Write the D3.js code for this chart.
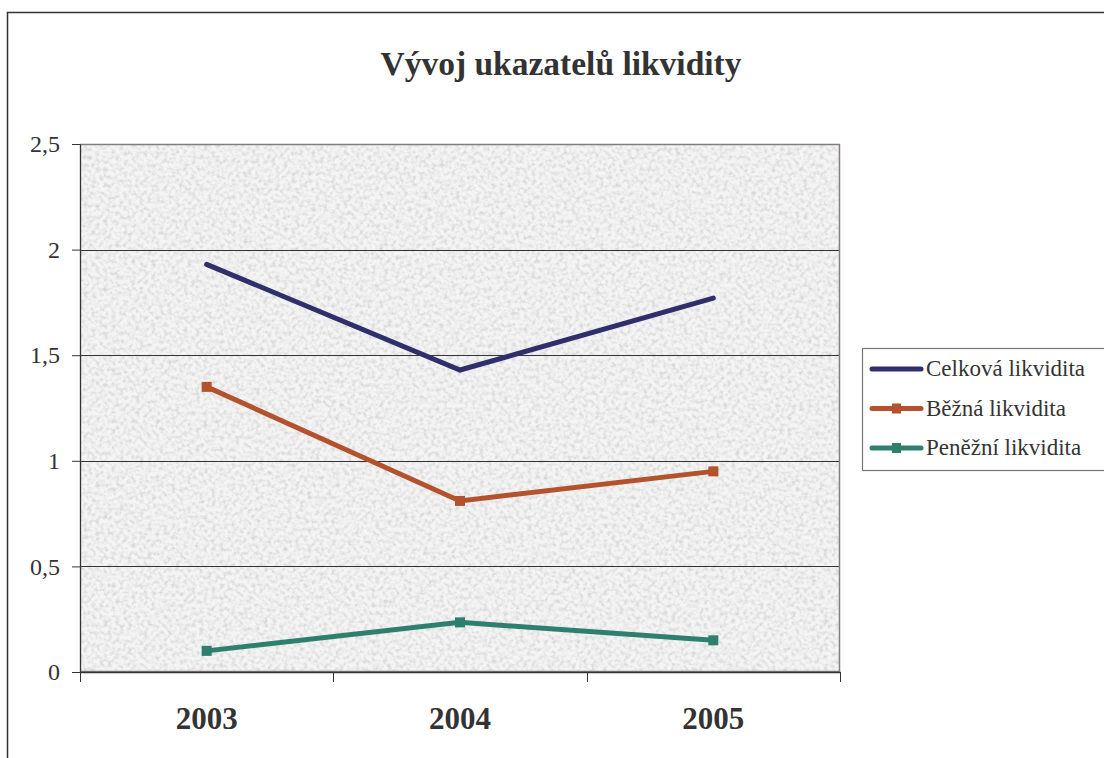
<!DOCTYPE html>
<html>
<head>
<meta charset="utf-8">
<script src="https://cdn.jsdelivr.net/npm/d3@7"></script>
<style>
  body { margin: 0; background: #fff; }
  svg { display: block; }
  svg text { font-family: "Liberation Serif", "DejaVu Serif", serif; }
</style>
</head>
<body>
<svg id="chart" width="1104" height="758"></svg>
<script>
   // chart data
   var years = ["2003", "2004", "2005"];
   var celkova = [1.93, 1.43, 1.77];
   var bezna = [1.35, 0.81, 0.95];
   var penezni = [0.10, 0.235, 0.15];
   var seriesNames = ["Celková likvidita", "Běžná likvidita", "Peněžní likvidita"];
   var yTicks = [0, 0.5, 1, 1.5, 2, 2.5];

   var series = [
      { name: seriesNames[0], values: celkova, color: "#2f2f6b", marker: false },
      { name: seriesNames[1], values: bezna, color: "#b2532d", marker: true },
      { name: seriesNames[2], values: penezni, color: "#2f7f6f", marker: true }
   ];

   var svg = d3.select("#chart");
   var plot = { left: 80, top: 144, right: 840, bottom: 672 };
   var serif = "Liberation Serif, DejaVu Serif, serif";

   // frame of the chart area (top and left edges visible)
   svg.append("path")
      .attr("d", "M7.5,758 V12.5 H1104")
      .attr("fill", "none")
      .attr("stroke", "#333")
      .attr("stroke-width", 1.5);

   svg.append("text")
      .attr("x", 561)
      .attr("y", 75)
      .attr("text-anchor", "middle")
      .attr("font-family", serif)
      .attr("font-size", 34)
      .attr("font-weight", "bold")
      .attr("fill", "#333")
      .attr("textLength", 361)
      .attr("lengthAdjust", "spacingAndGlyphs")
      .text("Vývoj ukazatelů likvidity");

   var x = d3.scaleBand().domain(years).range([plot.left, plot.right]);
   var y = d3.scaleLinear().domain([0, 2.5]).range([plot.bottom, plot.top]);

   // granite-like texture for the plot area
   var defs = svg.append("defs");
   var filt = defs.append("filter").attr("id", "granite")
      .attr("x", 0).attr("y", 0).attr("width", 1).attr("height", 1);
   filt.append("feTurbulence")
      .attr("type", "fractalNoise")
      .attr("baseFrequency", 0.25)
      .attr("numOctaves", 3)
      .attr("seed", 7)
      .attr("result", "noise");
   filt.append("feColorMatrix")
      .attr("in", "noise")
      .attr("type", "matrix")
      .attr("values", "0 0 0 0 0.68  0 0 0 0 0.68  0 0 0 0 0.68  2.4 0 0 0 -0.98")
      .attr("result", "spots");
   filt.append("feFlood").attr("flood-color", "#f4f4f4").attr("result", "base");
   var fm = filt.append("feMerge");
   fm.append("feMergeNode").attr("in", "base");
   fm.append("feMergeNode").attr("in", "spots");

   svg.append("rect")
      .attr("x", plot.left).attr("y", plot.top)
      .attr("width", plot.right - plot.left)
      .attr("height", plot.bottom - plot.top)
      .attr("fill", "#ececec")
      .attr("filter", "url(#granite)");

   // gridlines
   svg.append("g")
      .selectAll("line")
      .data(yTicks.slice(1, -1))
      .enter()
      .append("line")
      .attr("x1", plot.left).attr("x2", plot.right)
      .attr("y1", function(d) { return Math.round(y(d)) + 0.5; })
      .attr("y2", function(d) { return Math.round(y(d)) + 0.5; })
      .attr("stroke", "#333")
      .attr("stroke-width", 1);

   svg.append("rect")
      .attr("x", plot.left + 0.5).attr("y", plot.top + 0.5)
      .attr("width", plot.right - plot.left - 1)
      .attr("height", plot.bottom - plot.top - 1)
      .attr("fill", "none")
      .attr("stroke", "#857c7c")
      .attr("stroke-width", 1.5);

   // y axis
   var yAxis = svg.append("g")
      .attr("transform", "translate(" + plot.left + ",0)")
      .call(d3.axisLeft(y).tickValues(yTicks).tickSize(8).tickPadding(12)
         .tickFormat(function(d) { return String(d).replace(".", ","); }));
   yAxis.select(".domain").attr("stroke", "#333");
   yAxis.selectAll(".tick line").attr("stroke", "#333");
   yAxis.selectAll("text")
      .attr("font-family", serif)
      .attr("font-size", 24)
      .attr("fill", "#333");

   // x axis, ticks at category boundaries
   var xAxis = svg.append("g")
      .attr("transform", "translate(0," + plot.bottom + ")")
      .call(d3.axisBottom(x).tickSize(0).tickPadding(35));
   xAxis.select(".domain").attr("stroke", "#333").attr("stroke-width", 1.5);
   xAxis.selectAll("text")
      .attr("font-family", serif)
      .attr("font-size", 31)
      .attr("font-weight", "bold")
      .attr("fill", "#333");
   var bounds = years.map(function(d) { return x(d); }).concat([x.range()[1]]);
   xAxis.selectAll(".bound")
      .data(bounds)
      .enter()
      .append("line")
      .attr("class", "bound")
      .attr("x1", function(d) { return Math.round(d) + 0.5; })
      .attr("x2", function(d) { return Math.round(d) + 0.5; })
      .attr("y1", 0).attr("y2", 10)
      .attr("stroke", "#333");

   // lines
   var line = d3.line()
      .x(function(d, i) { return x(years[i]) + x.bandwidth() / 2; })
      .y(function(d) { return y(d); });

   series.forEach(function(s) {
      svg.append("path")
         .datum(s.values)
         .attr("d", line)
         .attr("fill", "none")
         .attr("stroke", s.color)
         .attr("stroke-width", 5)
         .attr("stroke-linecap", "round")
         .attr("stroke-linejoin", "miter");
      if (s.marker) {
         svg.selectAll(null)
            .data(s.values)
            .enter()
            .append("rect")
            .attr("x", function(d, i) { return x(years[i]) + x.bandwidth() / 2 - 5; })
            .attr("y", function(d) { return y(d) - 5; })
            .attr("width", 10).attr("height", 10)
            .attr("fill", s.color);
      }
   });

   // legend
   var legend = svg.append("g").attr("transform", "translate(862,348)");
   legend.append("rect")
      .attr("x", 0.5).attr("y", 0.5)
      .attr("width", 250).attr("height", 122)
      .attr("fill", "#fff")
      .attr("stroke", "#777")
      .attr("stroke-width", 1.2);
   var item = legend.selectAll(".item")
      .data(series)
      .enter()
      .append("g")
      .attr("class", "item")
      .attr("transform", function(d, i) { return "translate(0," + (21 + i * 39.5) + ")"; });
   item.append("line")
      .attr("x1", 10).attr("x2", 59)
      .attr("stroke", function(d) { return d.color; })
      .attr("stroke-width", 5)
      .attr("stroke-linecap", "round");
   item.filter(function(d) { return d.marker; })
      .append("rect")
      .attr("x", 30).attr("y", -5)
      .attr("width", 9).attr("height", 10)
      .attr("fill", function(d) { return d.color; });
   item.append("text")
      .attr("x", 64)
      .attr("y", 7)
      .attr("font-family", serif)
      .attr("font-size", 23)
      .attr("fill", "#333")
      .text(function(d) { return d.name; });
</script>
</body>
</html>
